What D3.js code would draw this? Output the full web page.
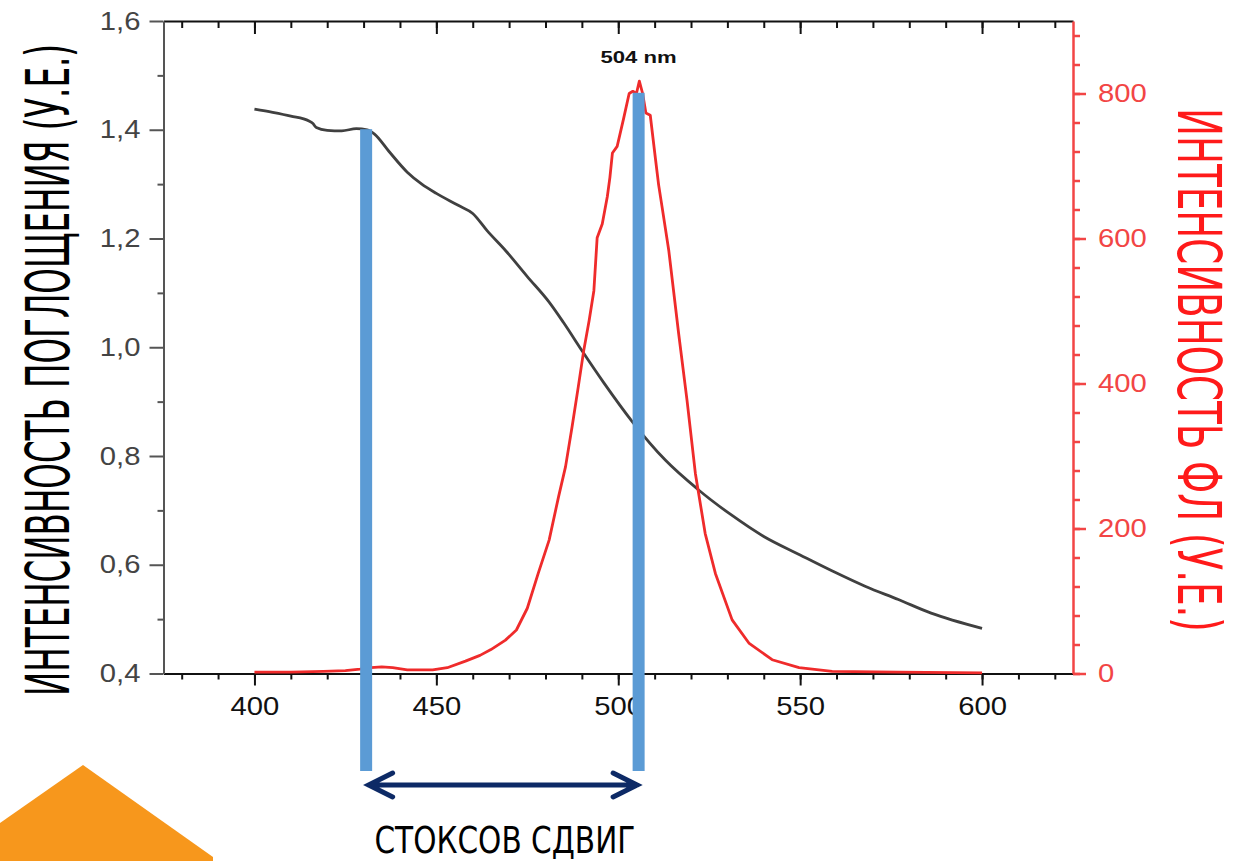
<!DOCTYPE html>
<html>
<head>
<meta charset="utf-8">
<script src="https://cdnjs.cloudflare.com/ajax/libs/d3/7.8.5/d3.min.js"></script>
<style>
  body { margin: 0; background: #fff; }
  svg { display: block; }
  .tick text { transform-box: fill-box; }
</style>
</head>
<body>
<div id="chart"></div>
<script>
// absorption spectrum (left axis, a.u.)
var absWave  = [400, 405, 410, 415, 416, 417, 420, 424, 428, 431, 433, 437, 442, 446, 450, 456, 460, 464, 469, 475, 481, 485, 490, 496, 504, 513, 522, 531, 540, 550, 559, 568, 577, 586, 600];
var absValue = [1.438, 1.432, 1.425, 1.416, 1.412, 1.404, 1.399, 1.398, 1.402, 1.400, 1.392, 1.360, 1.322, 1.300, 1.283, 1.261, 1.246, 1.214, 1.178, 1.130, 1.083, 1.045, 0.994, 0.935, 0.862, 0.792, 0.738, 0.692, 0.652, 0.618, 0.588, 0.560, 0.536, 0.511, 0.483];

// photoluminescence spectrum (right axis, a.u.)
var plWave  = [400, 410, 419, 425, 429, 432, 435, 438, 442, 449, 453, 458, 462, 465, 469, 472, 475, 478, 481, 483.6, 485.5, 487.3, 489, 490.5, 492, 493.3, 494.2, 495.6, 497, 497.7, 498.4, 499.7, 501.5, 503, 504, 505, 505.8, 506.7, 507.6, 508.8, 510.2, 511.1, 512, 513.9, 516.6, 518.9, 521.2, 523.9, 526.7, 531.3, 535.9, 542.3, 549.7, 558.8, 577, 600];
var plValue = [2, 2, 3, 4, 6, 8, 9, 8, 5, 5, 8, 17, 25, 33, 46, 60, 90, 138, 184, 244, 285, 340, 395, 445, 487, 528, 601, 620, 658, 684, 718, 727, 766, 800, 803, 800, 817, 800, 773, 770, 711, 674, 645, 583, 469, 377, 276, 193, 138, 74, 42, 19, 8, 3, 2, 1];

// ticks
var xMajor = [400, 450, 500, 550, 600];
var xMinor = d3.range(380, 621, 10);
var yLeftMajor = [0.4, 0.6, 0.8, 1.0, 1.2, 1.4, 1.6];
var yLeftMinor = [0.5, 0.7, 0.9, 1.1, 1.3, 1.5];
var yRightMajor = [0, 200, 400, 600, 800];
var yRightMinor = d3.range(0, 881, 40);

// Stokes shift markers: [wavelength, top value]
var absMax = [430.7, 1.401];
var plMax = [505.6, 801];
var peakLabel = "504 nm";

var W = 1233, H = 861;
var svg = d3.select("#chart").append("svg")
    .attr("width", W)
    .attr("height", H);

var x = d3.scaleLinear().domain([375, 625]).range([163.5, 1073]);
var yL = d3.scaleLinear().domain([0.4, 1.6]).range([673.5, 21]);
var yR = d3.scaleLinear().domain([0, 900]).range([673.5, 21]);

var tickFont = "'Liberation Sans', Arial, sans-serif";
var comma = function(d){ return d3.format(".1f")(d).replace(".", ","); };

// orange corner decoration
svg.append("path")
    .attr("d", "M0,823 L83,765 L213,857 L213,861 L0,861 Z")
    .attr("fill", "#f7971c");

// bottom axis
var gB = svg.append("g").attr("transform", "translate(0," + yL.range()[0] + ")");
gB.call(d3.axisBottom(x).tickValues(xMinor).tickSize(6).tickSizeOuter(0).tickFormat(""));
gB.append("g").call(d3.axisBottom(x).tickValues(xMajor).tickSize(12).tickPadding(12).tickSizeOuter(0))
    .call(function(g){ g.select(".domain").remove(); });
gB.selectAll("line, path").attr("stroke", "#111").attr("stroke-width", 2);
gB.selectAll("text")
    .style("font-family", tickFont).style("font-size", "25px").attr("fill", "#111")
    .style("transform-origin", "center").style("transform", "scaleX(1.17)");

// top axis (ticks inward)
var gT = svg.append("g").attr("transform", "translate(0," + yL.range()[1] + ")");
gT.call(d3.axisTop(x).tickValues(xMinor).tickSize(-7).tickSizeOuter(0).tickFormat(""));
gT.append("g").call(d3.axisTop(x).tickValues(xMajor).tickSize(-13).tickFormat(""))
    .call(function(g){ g.select(".domain").remove(); });
gT.selectAll("line, path").attr("stroke", "#111").attr("stroke-width", 2);

// left axis
var gL = svg.append("g").attr("transform", "translate(" + x.range()[0] + ",0)");
gL.call(d3.axisLeft(yL).tickValues(yLeftMinor).tickSize(6).tickSizeOuter(0).tickFormat(""));
gL.append("g").call(d3.axisLeft(yL).tickValues(yLeftMajor).tickSize(14).tickPadding(9).tickFormat(comma))
    .call(function(g){ g.select(".domain").remove(); });
gL.selectAll("line, path").attr("stroke", "#555").attr("stroke-width", 2);
gL.selectAll("text")
    .style("font-family", tickFont).style("font-size", "25px").attr("fill", "#444")
    .style("transform-origin", "right center").style("transform", "scaleX(1.17)");

// right axis (red)
var gR = svg.append("g").attr("transform", "translate(" + x.range()[1] + ",0)");
gR.call(d3.axisRight(yR).tickValues(yRightMinor).tickSize(7).tickSizeOuter(0).tickFormat(""));
gR.append("g").call(d3.axisRight(yR).tickValues(yRightMajor).tickSize(13).tickPadding(12))
    .call(function(g){ g.select(".domain").remove(); });
gR.selectAll("line, path").attr("stroke", "#f24545").attr("stroke-width", 2.5);
gR.selectAll("text")
    .style("font-family", tickFont).style("font-size", "25px").attr("fill", "#f24545")
    .style("transform-origin", "left center").style("transform", "scaleX(1.17)");

// curves
var absLine = d3.line().x(function(d){ return x(d[0]); }).y(function(d){ return yL(d[1]); }).curve(d3.curveMonotoneX);
var plLine = d3.line().x(function(d){ return x(d[0]); }).y(function(d){ return yR(d[1]); }).curve(d3.curveLinear);

svg.append("path")
    .datum(d3.zip(absWave, absValue))
    .attr("d", absLine)
    .attr("fill", "none")
    .attr("stroke", "#404040")
    .attr("stroke-width", 2.8)
    .attr("stroke-linejoin", "round");

svg.append("path")
    .datum(d3.zip(plWave, plValue))
    .attr("d", plLine)
    .attr("fill", "none")
    .attr("stroke", "#ef2b2b")
    .attr("stroke-width", 2.8)
    .attr("stroke-linejoin", "round");

// peak label
svg.append("text")
    .attr("x", x(plMax[0]))
    .attr("y", 63)
    .attr("text-anchor", "middle")
    .style("font-family", tickFont).style("font-size", "17px").style("font-weight", "bold")
    .style("transform-box", "fill-box").style("transform-origin", "center").style("transform", "scaleX(1.3)")
    .attr("fill", "#111")
    .text(peakLabel);

// blue marker bars
var barBottom = 771;
svg.append("rect")
    .attr("x", x(absMax[0]) - 6).attr("y", yL(absMax[1]))
    .attr("width", 12).attr("height", barBottom - yL(absMax[1]))
    .attr("fill", "#5b9bd5");
svg.append("rect")
    .attr("x", x(plMax[0]) - 6).attr("y", yR(plMax[1]))
    .attr("width", 12).attr("height", barBottom - yR(plMax[1]))
    .attr("fill", "#5b9bd5");

// double arrow
var ay = 785, xa = x(absMax[0]) + 2.5, xb = x(plMax[0]) - 1.5;
svg.append("path")
    .attr("d", "M" + (xa + 24) + "," + (ay - 12) + " L" + xa + "," + ay + " L" + (xa + 24) + "," + (ay + 12) +
               " M" + xa + "," + ay + " L" + xb + "," + ay +
               " M" + (xb - 24) + "," + (ay - 12) + " L" + xb + "," + ay + " L" + (xb - 24) + "," + (ay + 12))
    .attr("fill", "none")
    .attr("stroke", "#0d2a66")
    .attr("stroke-width", 5)
    .attr("stroke-linecap", "round")
    .attr("stroke-linejoin", "miter");

var titleFont = "'DejaVu Sans Condensed', 'DejaVu Sans', sans-serif";

// condensed labels: measure, then squeeze horizontally to the wanted length
function squeezed(txt, cx, cy, angle, len, size, color, upper){
    var g = svg.append("g").attr("transform", "translate(" + cx + "," + cy + ") rotate(" + angle + ")");
    var t = g.append("text")
        .attr("text-anchor", "middle")
        .style("font-family", titleFont).style("font-size", size + "px")
        .style("text-transform", upper ? "uppercase" : "none")
        .attr("fill", color)
        .text(txt);
    var w = t.node().getComputedTextLength();
    t.attr("transform", "scale(" + (len / w) + ",1)");
    return t;
}

squeezed("СТОКСОВ СДВИГ", (xa + xb) / 2 + 2, 853, 0, 261, 37, "#000", false);
squeezed("Интенсивность поглощения (у.е.)", 69, 370, -90, 652, 60, "#000", true);
squeezed("Интенсивность ФЛ (у.е.)", 1178, 370, 90, 524, 60, "#ff1a1a", true);
</script>
</body>
</html>
